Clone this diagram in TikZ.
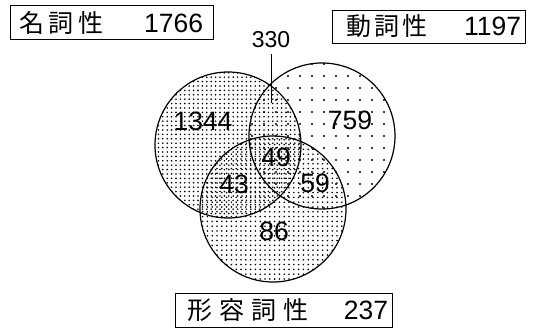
\documentclass[tikz,border=0pt]{standalone}
\usepackage{fontspec}
\setmainfont{Liberation Sans}
\newfontfamily\cjk{Noto Sans CJK JP}
\usetikzlibrary{patterns.meta}
\newcommand{\jfont}{\cjk\fontsize{25}{25}\selectfont}
\newcommand{\dfont}{\rmfamily\fontsize{26.5}{26.5}\selectfont}
\tikzset{
  setbox/.style={draw, line width=0.9pt, inner sep=0pt, minimum height=34pt},
  ring/.style={circle, draw, line width=1.2pt, minimum size=146pt, inner sep=0pt},
  num/.style={font=\dfont, inner sep=0pt},
  lead/.style={line width=0.9pt},
}
\begin{document}
\begin{tikzpicture}[x=1pt,y=-1pt]
\useasboundingbox (0,0) rectangle (537,328);
% pattern fills
\path[pattern={Dots[distance=4.4pt,radius=0.9pt]}] (228,145) circle[radius=73];
\path[pattern={Dots[distance=12pt,radius=1.2pt]}] (322,136) circle[radius=73];
\path[pattern={Dots[distance=4.8pt,radius=0.9pt,xshift=1pt,yshift=1pt]}] (273,209) circle[radius=73];
% outlines
\node[ring] (N) at (228,145) {};
\node[ring] (V) at (322,136) {};
\node[ring] (A) at (273,209) {};
% region counts
\node[num] (n1344) at (203,121) {1344};
\node[num] (n759) at (350,120) {759};
\node[num] (n49) at (276,157) {49};
\node[num] (n43) at (234,184) {43};
\node[num] (n59) at (315,183) {59};
\node[num] (n86) at (274,231) {86};
% 330 label and leader
\node[font=\rmfamily\fontsize{23}{23}\selectfont, inner sep=0pt, outer sep=6pt] (L330) at (271,40) {330};
\coordinate (tip) at (271,103);
\draw[lead] (L330.south) -- (tip);
% set boxes
\node[setbox, minimum width=203pt] (B1) at (111.5,22.5)
  {\makebox[203pt][s]{\hspace{9pt}\jfont 名\hspace{4.5pt}詞\hspace{4.5pt}性\hfill\dfont 1766\hspace{10pt}}};
\node[setbox, minimum width=193pt, minimum height=33pt] (B2) at (428.5,26.5)
  {\makebox[193pt][s]{\hspace{14pt}\jfont 動\hspace{3.5pt}詞\hspace{3.5pt}性\hfill\dfont 1197\hspace{4pt}}};
\node[setbox, minimum width=217pt] (B3) at (283.5,310)
  {\makebox[217pt][s]{\hspace{12pt}\jfont 形\hspace{7pt}容\hspace{7pt}詞\hspace{7pt}性\hfill\dfont 237\hspace{4pt}}};
\end{tikzpicture}
\end{document}
